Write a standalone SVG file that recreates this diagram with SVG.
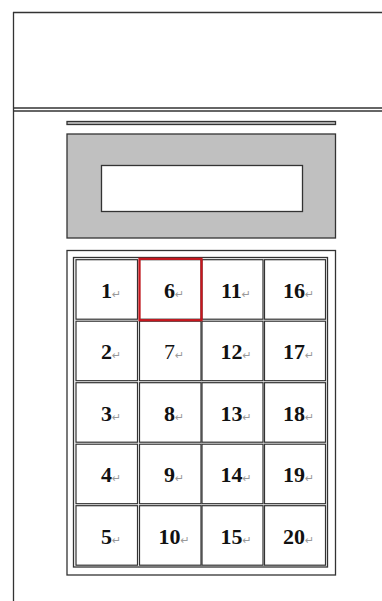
<svg xmlns="http://www.w3.org/2000/svg" width="382" height="601" viewBox="0 0 382 601">
<style>
.ln{stroke:#333;stroke-width:1.3;fill:none}
.gray{fill:#c0c0c0;stroke:#333;stroke-width:1.3}
.box{fill:#fff;stroke:#333;stroke-width:1.3}
.cell{fill:#fff;stroke:#333;stroke-width:1.2}
.num{font-family:"Liberation Serif","Times New Roman",serif;font-weight:bold;font-size:22px;fill:#111;text-anchor:middle}
.reg{font-weight:normal}
.mk{font-family:"DejaVu Sans",sans-serif;font-weight:normal;font-size:11px;fill:#999}
</style>
<rect width="382" height="601" fill="#fff"/>
<g id="frame">
<line class="ln" x1="13.5" y1="12" x2="13.5" y2="601"/>
<line class="ln" x1="13" y1="12.5" x2="382" y2="12.5"/>
<line class="ln" x1="13" y1="108" x2="382" y2="108"/>
<line class="ln" x1="13" y1="111" x2="382" y2="111"/>
</g>
<g id="bar"><rect class="gray" x="67" y="121.5" width="268.5" height="3"/></g>
<g id="display">
<rect class="gray" x="67" y="134" width="268.5" height="104"/>
<rect class="box" x="101.5" y="165.5" width="201" height="46"/>
</g>
<g id="keypad">
<rect class="box" x="67" y="250.5" width="268.5" height="324.5"/>
<rect class="box" x="73.5" y="257.5" width="254" height="309.5"/>
</g>
<g id="key1"><rect class="cell" x="76" y="259.7" width="61.5" height="59.5"/><text class="num" x="111" y="297.5">1<tspan class="mk">↵</tspan></text></g>
<g id="key2"><rect class="cell" x="76" y="321.2" width="61.5" height="59.5"/><text class="num" x="111" y="359">2<tspan class="mk">↵</tspan></text></g>
<g id="key3"><rect class="cell" x="76" y="382.7" width="61.5" height="59.5"/><text class="num" x="111" y="420.5">3<tspan class="mk">↵</tspan></text></g>
<g id="key4"><rect class="cell" x="76" y="444.2" width="61.5" height="59.5"/><text class="num" x="111" y="482">4<tspan class="mk">↵</tspan></text></g>
<g id="key5"><rect class="cell" x="76" y="505.7" width="61.5" height="59.5"/><text class="num" x="111" y="543.5">5<tspan class="mk">↵</tspan></text></g>
<g id="key6"><rect class="cell" x="139.5" y="259.7" width="61.5" height="59.5"/><text class="num" x="174" y="297.5">6<tspan class="mk">↵</tspan></text></g>
<g id="key7"><rect class="cell" x="139.5" y="321.2" width="61.5" height="59.5"/><text class="num reg" x="174" y="359">7<tspan class="mk">↵</tspan></text></g>
<g id="key8"><rect class="cell" x="139.5" y="382.7" width="61.5" height="59.5"/><text class="num" x="174" y="420.5">8<tspan class="mk">↵</tspan></text></g>
<g id="key9"><rect class="cell" x="139.5" y="444.2" width="61.5" height="59.5"/><text class="num" x="174" y="482">9<tspan class="mk">↵</tspan></text></g>
<g id="key10"><rect class="cell" x="139.5" y="505.7" width="61.5" height="59.5"/><text class="num" x="174" y="543.5">10<tspan class="mk">↵</tspan></text></g>
<g id="key11"><rect class="cell" x="202" y="259.7" width="61" height="59.5"/><text class="num" x="236" y="297.5">11<tspan class="mk">↵</tspan></text></g>
<g id="key12"><rect class="cell" x="202" y="321.2" width="61" height="59.5"/><text class="num" x="236" y="359">12<tspan class="mk">↵</tspan></text></g>
<g id="key13"><rect class="cell" x="202" y="382.7" width="61" height="59.5"/><text class="num" x="236" y="420.5">13<tspan class="mk">↵</tspan></text></g>
<g id="key14"><rect class="cell" x="202" y="444.2" width="61" height="59.5"/><text class="num" x="236" y="482">14<tspan class="mk">↵</tspan></text></g>
<g id="key15"><rect class="cell" x="202" y="505.7" width="61" height="59.5"/><text class="num" x="236" y="543.5">15<tspan class="mk">↵</tspan></text></g>
<g id="key16"><rect class="cell" x="264.5" y="259.7" width="61" height="59.5"/><text class="num" x="298.5" y="297.5">16<tspan class="mk">↵</tspan></text></g>
<g id="key17"><rect class="cell" x="264.5" y="321.2" width="61" height="59.5"/><text class="num" x="298.5" y="359">17<tspan class="mk">↵</tspan></text></g>
<g id="key18"><rect class="cell" x="264.5" y="382.7" width="61" height="59.5"/><text class="num" x="298.5" y="420.5">18<tspan class="mk">↵</tspan></text></g>
<g id="key19"><rect class="cell" x="264.5" y="444.2" width="61" height="59.5"/><text class="num" x="298.5" y="482">19<tspan class="mk">↵</tspan></text></g>
<g id="key20"><rect class="cell" x="264.5" y="505.7" width="61" height="59.5"/><text class="num" x="298.5" y="543.5">20<tspan class="mk">↵</tspan></text></g>
<g id="highlight"><rect x="139.5" y="258.8" width="62" height="61.4" fill="none" stroke="#c8161d" stroke-width="2.2"/></g>
</svg>
